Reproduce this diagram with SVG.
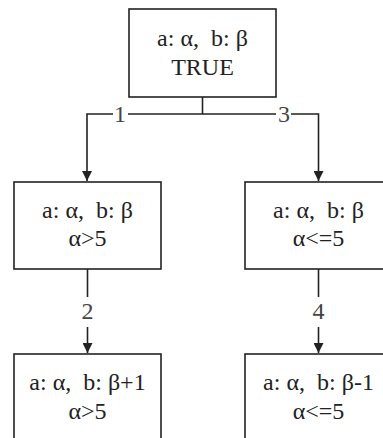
<svg xmlns="http://www.w3.org/2000/svg" width="383" height="438" viewBox="0 0 383 438">
<style>
.box{fill:#fff;stroke:#222;stroke-width:1.6}
.t{font-family:"Liberation Serif","Times New Roman",serif;font-size:24px;fill:#222;text-anchor:middle}
.lbl{font-family:"Liberation Serif","Times New Roman",serif;font-size:24px;fill:#444;text-anchor:middle}
.c{fill:none;stroke:#222;stroke-width:1.6}
</style>
<defs>
<marker id="ah" markerWidth="10" markerHeight="10" viewBox="0 0 10 10" refX="10" refY="5" orient="auto" markerUnits="userSpaceOnUse">
<path d="M0,0 L10,5 L0,10 Z" fill="#222"/>
</marker>
</defs>
<rect width="383" height="438" fill="#fff"/>
<g id="connectors">
<path class="c" d="M202.5,97 V114"/>
<path class="c" d="M113,114 H87 V181" marker-end="url(#ah)"/>
<path class="c" d="M128,114 H276"/>
<path class="c" d="M291,114 H318.5 V181" marker-end="url(#ah)"/>
<path class="c" d="M87.5,269 V297"/>
<path class="c" d="M87.5,327 V353" marker-end="url(#ah)"/>
<path class="c" d="M318.5,269 V297"/>
<path class="c" d="M318.5,327 V353" marker-end="url(#ah)"/>
<text class="lbl" x="120" y="122">1</text>
<text class="lbl" x="284" y="122">3</text>
<text class="lbl" x="87.5" y="319">2</text>
<text class="lbl" x="318.5" y="319">4</text>
</g>
<g id="n0">
<rect class="box" x="129" y="9" width="147" height="88"/>
<text class="t" x="202.5" y="46">a: α,&#160; b: β</text>
<text class="t" x="202.5" y="75">TRUE</text>
</g>
<g id="n1">
<rect class="box" x="14" y="182" width="147" height="87"/>
<text class="t" x="87.5" y="218">a: α,&#160; b: β</text>
<text class="t" x="87.5" y="246">α&gt;5</text>
</g>
<g id="n2">
<rect class="box" x="245" y="182" width="147" height="87"/>
<text class="t" x="318.5" y="218">a: α,&#160; b: β</text>
<text class="t" x="318.5" y="246">α&lt;=5</text>
</g>
<g id="n3">
<rect class="box" x="14" y="354" width="147" height="100"/>
<text class="t" x="87.5" y="390">a: α,&#160; b: β+1</text>
<text class="t" x="87.5" y="419">α&gt;5</text>
</g>
<g id="n4">
<rect class="box" x="245" y="354" width="147" height="100"/>
<text class="t" x="318.5" y="390">a: α,&#160; b: β-1</text>
<text class="t" x="318.5" y="419">α&lt;=5</text>
</g>
</svg>
